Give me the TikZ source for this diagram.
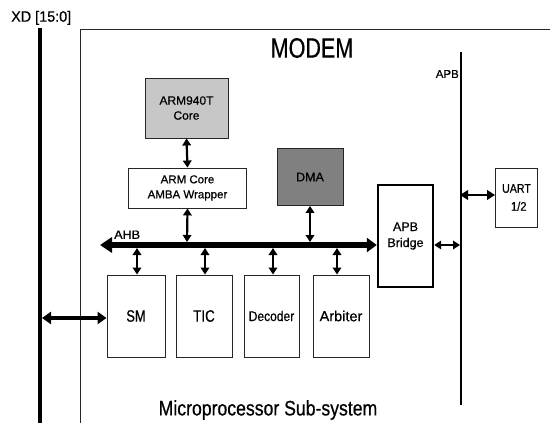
\documentclass[tikz,border=0pt]{standalone}
\usepackage{fontspec}
\setmainfont{Liberation Sans}[FakeBold=0.6]
\usetikzlibrary{arrows.meta}
\tikzset{
  blk/.style={draw=black!85, line width=0.9pt, inner sep=0pt, align=center},
  thinarr/.style={line width=2.2pt, {Triangle[length=7pt,width=8.5pt]}-{Triangle[length=7pt,width=8.5pt]}},
  busline/.style={line width=2pt},
  txt/.style={inner sep=0pt}
}
% #1 size, #2 horizontal scale, #3 text
\newcommand{\tx}[3]{\scalebox{#2}[1]{\fontsize{#1}{#1}\selectfont #3}}
\begin{document}
\begin{tikzpicture}[x=1pt,y=-1pt]
\useasboundingbox[fill=white] (0,0) rectangle (550,423);
% frame
\draw[line width=0.9pt, black!85] (80,423) -- (80,29) -- (550,29);
% XD bus
\draw[line width=4pt] (40,28) -- (40,423);
\node[txt, anchor=south west] (xdl) at (11,25) {\tx{15}{0.96}{XD [15:0]}};
\node[txt] (modem) at (312,48) {\tx{28}{0.77}{MODEM}};
% APB bus
\coordinate (apbt) at (461,52);
\coordinate (apbb) at (461,405);
\draw[busline] (apbt) -- (apbb);
\node[txt, anchor=east] (apbl) at (459,74) {\tx{11.5}{1}{APB}};
% blocks
\node[blk, fill=black!22, minimum width=83pt, minimum height=60pt] (core) at (186.5,108) {\tx{12}{1}{ARM940T}\\[3pt]\tx{12}{1}{Core}};
\node[blk, minimum width=118pt, minimum height=40pt] (wrap) at (187.5,188) {\tx{11.5}{1}{ARM Core}\\[3pt]\tx{11.5}{1}{AMBA Wrapper}};
\node[blk, fill=black!50, minimum width=66pt, minimum height=57pt] (dma) at (310,177) {\tx{12.5}{1}{DMA}};
\node[blk, line width=2.4pt, draw=black, minimum width=55pt, minimum height=102pt] (bridge) at (405.5,236) {\tx{12.5}{1}{APB}\\[4pt]\tx{12.5}{1}{Bridge}};
\node[blk, minimum width=42pt, minimum height=59pt] (uart) at (516.5,197.5) {\tx{12.5}{0.85}{UART}\\[6pt]\tx{12.5}{0.9}{\hspace*{5pt}1/2}};
\node[blk, minimum width=58pt, minimum height=82pt] (sm) at (136,316) {\tx{16.5}{0.78}{SM}};
\node[blk, minimum width=56pt, minimum height=82pt] (tic) at (204,316) {\tx{16.5}{0.81}{TIC}};
\node[blk, minimum width=55pt, minimum height=82pt] (dec) at (271.5,316) {\tx{14}{0.86}{Decoder}};
\node[blk, minimum width=56pt, minimum height=82pt] (arb) at (341,316) {\tx{14.5}{1}{Arbiter}};
\node[txt] (mss) at (268,410) {\tx{21}{0.84}{Microprocessor Sub-system}};
% AHB bus
\coordinate (ahbl) at (100,245);
\draw[line width=5.5pt, {Triangle[length=12pt,width=15pt]}-{Triangle[length=10pt,width=14pt]}] (ahbl) -- (bridge.west |- ahbl);
\node[txt, anchor=south west] (ahb) at (114,239) {\tx{12}{1.05}{AHB}};
% connectors
\coordinate (bw) at (187,242);
\coordinate (bd) at (310,242);
\coordinate (b1) at (137,248);
\coordinate (b2) at (205,248);
\coordinate (b3) at (273,248);
\coordinate (b4) at (337,248);
\draw[thinarr] (core.south) -- (wrap.north);
\draw[thinarr] (wrap.south) -- (bw);
\draw[thinarr] (dma.south -| bd) -- (bd);
\draw[thinarr] (b1) -- (sm.north -| b1);
\draw[thinarr] (b2) -- (tic.north -| b2);
\draw[thinarr] (b3) -- (dec.north -| b3);
\draw[thinarr] (b4) -- (arb.north -| b4);
\coordinate (apbx) at (460,245);
\draw[thinarr] (bridge.east |- apbx) -- (apbx);
\coordinate (apbu) at (460,195);
\draw[line width=2.6pt, {Triangle[length=8pt,width=9.5pt]}-{Triangle[length=8pt,width=9.5pt]}] (apbu) -- (uart.west |- apbu);
\coordinate (xdx) at (42,318);
\draw[line width=3.5pt, {Triangle[length=9pt,width=12pt]}-{Triangle[length=9pt,width=12pt]}] (xdx) -- (sm.west |- xdx);
\end{tikzpicture}
\end{document}
